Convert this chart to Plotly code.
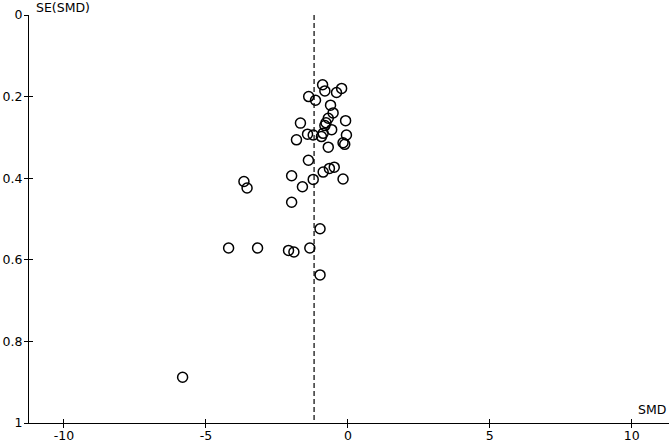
import plotly.graph_objects as go

# Study effect sizes (SMD) and their standard errors
smd = [-0.89, -0.81, -0.40, -0.22, -1.38, -1.14, -0.61, -0.52, -0.69, -0.08,
       -1.67, -0.77, -0.81, -0.57, -1.42, -1.22, -0.93, -0.87, -0.05, -1.81,
       -0.17, -0.11, -0.69, -1.39, -0.48, -0.65, -0.87, -1.98, -0.17, -1.22,
       -1.60, -3.66, -3.55, -1.98, -0.98, -4.20, -3.18, -2.09, -1.90, -1.34,
       -0.98, -5.82]
se = [0.171, 0.186, 0.190, 0.180, 0.200, 0.209, 0.221, 0.240, 0.253, 0.259,
      0.265, 0.264, 0.271, 0.281, 0.292, 0.294, 0.298, 0.290, 0.294, 0.306,
      0.313, 0.317, 0.324, 0.356, 0.373, 0.376, 0.385, 0.394, 0.402, 0.403,
      0.421, 0.408, 0.424, 0.459, 0.524, 0.571, 0.571, 0.577, 0.581, 0.571,
      0.637, 0.888]
pooled_smd = -1.19

x_ticks = [-10, -5, 0, 5, 10]
x_tick_labels = ["-10", "-5", "0", "5", "10"]
y_ticks = [0, 0.2, 0.4, 0.6, 0.8, 1]
y_tick_labels = ["0", "0.2", "0.4", "0.6", "0.8", "1"]

fig = go.Figure()
fig.add_trace(go.Scatter(
    x=[pooled_smd, pooled_smd], y=[0, 1], mode="lines",
    line=dict(color="black", width=1.2, dash="5px,3px"),
    hoverinfo="skip", showlegend=False, cliponaxis=False))
fig.add_trace(go.Scatter(
    x=smd, y=se, mode="markers",
    marker=dict(symbol="circle-open", size=10, color="black",
                line=dict(width=1.5, color="black")),
    showlegend=False, cliponaxis=False))
# invisible trace on secondary axes (used only for inward tick halves)
fig.add_trace(go.Scatter(x=[pooled_smd], y=[0], xaxis="x2", yaxis="y2",
                         mode="markers", marker=dict(opacity=0),
                         hoverinfo="skip", showlegend=False))

font = dict(family="DejaVu Sans", size=12.5, color="black")
common = dict(showgrid=False, zeroline=False, linecolor="black", linewidth=1,
              tickwidth=1, tickcolor="black", tickfont=font, automargin=False)
fig.update_layout(
    width=669, height=441,
    margin=dict(l=29, r=0, t=15, b=18, autoexpand=False),
    paper_bgcolor="white", plot_bgcolor="white",
    font=font,
    xaxis=dict(range=[-11.23, 11.31], tickvals=x_ticks, ticktext=x_tick_labels,
               showline=True, ticks="outside", ticklen=4, layer="above traces",
               ticklabelstandoff=-3, **common),
    yaxis=dict(range=[1, 0], tickvals=y_ticks, ticktext=y_tick_labels,
               showline=True, ticks="outside", ticklen=4, layer="above traces",
               ticklabelstandoff=-1, **common),
    xaxis2=dict(range=[-11.23, 11.31], tickvals=x_ticks, overlaying="x",
                side="bottom", anchor="y2", showline=False, ticks="inside",
                ticklen=4, showticklabels=False, **common),
    yaxis2=dict(range=[1, 0], tickvals=y_ticks, overlaying="y", side="left",
                anchor="x2", showline=False, ticks="inside", ticklen=4,
                showticklabels=False, **common),
    annotations=[
        dict(text="SE(SMD)", xref="paper", yref="paper", x=0, y=1,
             xanchor="left", yanchor="middle", xshift=5, yshift=8,
             showarrow=False, font=font),
        dict(text="SMD", xref="paper", yref="paper", x=1, y=0,
             xanchor="right", yanchor="bottom", xshift=-1, yshift=4,
             showarrow=False, font=font),
    ],
)
fig.write_html("out.html", config={"displayModeBar": False},
               post_script="document.body.style.margin='0px';document.body.style.overflow='hidden';")
